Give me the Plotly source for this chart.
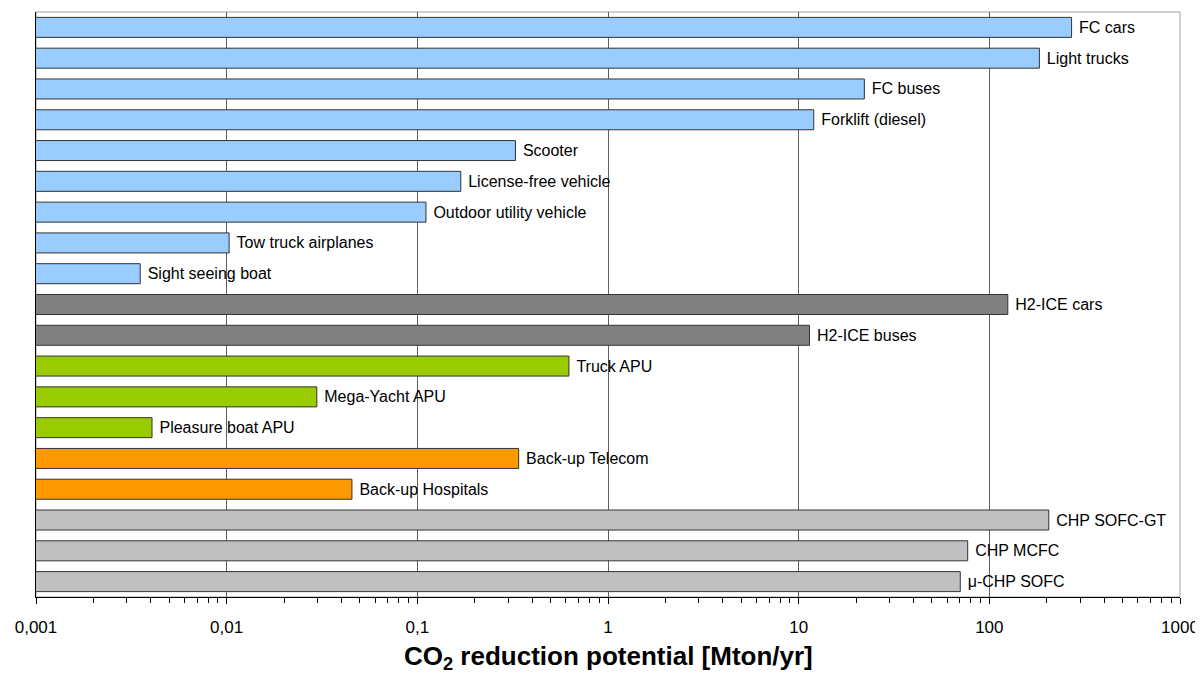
import plotly.graph_objects as go

categories = ["FC cars", "Light trucks", "FC buses", "Forklift (diesel)", "Scooter",
              "License-free vehicle", "Outdoor utility vehicle", "Tow truck airplanes",
              "Sight seeing boat", "H2-ICE cars", "H2-ICE buses", "Truck APU",
              "Mega-Yacht APU", "Pleasure boat APU", "Back-up Telecom", "Back-up Hospitals",
              "CHP SOFC-GT", "CHP MCFC", "μ-CHP SOFC"]
values = [270, 183, 22.1, 12.0, 0.327, 0.169, 0.111, 0.0103, 0.00352, 125, 11.4,
          0.624, 0.0297, 0.00406, 0.340, 0.0454, 205, 77, 70.4]
groups = ["fc", "fc", "fc", "fc", "fc", "fc", "fc", "fc", "fc", "ice", "ice",
          "apu", "apu", "apu", "backup", "backup", "chp", "chp", "chp"]
group_colors = {"fc": "#99ccff", "ice": "#808080", "apu": "#99cc00",
                "backup": "#ff9900", "chp": "#c0c0c0"}
tick_vals = [0.001, 0.01, 0.1, 1, 10, 100, 1000]
tick_text = ["0,001", "0,01", "0,1", "1", "10", "100", "1000"]
minor_mult = [2, 3, 4, 5, 6, 7, 8, 9]
minor_vals = [m * d for d in tick_vals[:-1] for m in minor_mult]

FONT = "Liberation Sans, Arial, sans-serif"

fig = go.Figure(go.Bar(
    x=values, y=categories, orientation="h",
    marker=dict(color=[group_colors[g] for g in groups],
                line=dict(color="#333333", width=1)),
    text=["\u00a0" + c for c in categories], textposition="outside",
    textfont=dict(family=FONT, size=16, color="black"),
    constraintext="none", cliponaxis=False, hoverinfo="x+y",
))

# page body has an 8px default margin, so the figure is sized to fit inside it
fig.update_layout(
    width=1195, height=666,
    margin=dict(l=28, r=23, t=4, b=77, autoexpand=False),
    paper_bgcolor="white", plot_bgcolor="white",
    showlegend=False, bargap=0.35,
    font=dict(family=FONT, color="black"),
    shapes=[dict(type="rect", xref="paper", yref="paper", x0=0, x1=1, y0=0, y1=1,
                 line=dict(color="#a0a0a0", width=1), layer="below")],
    annotations=[dict(text="CO<sub>2</sub> reduction potential [Mton/yr]",
                      xref="paper", yref="paper", x=0.5, y=-0.103,
                      xanchor="center", yanchor="middle", showarrow=False,
                      font=dict(family=FONT, size=26, color="black", weight="bold"))],
)
fig.update_xaxes(
    type="log", range=[-3, 3], tickvals=tick_vals, ticktext=tick_text,
    automargin=False,
    showgrid=True, gridcolor="#606060", gridwidth=1,
    showline=True, linecolor="black", linewidth=1,
    ticks="outside", ticklen=6, tickcolor="black", ticklabelstandoff=9,
    tickfont=dict(family=FONT, size=17, color="black"),
    minor=dict(tickvals=minor_vals, ticks="outside", ticklen=5,
               tickcolor="black", showgrid=False),
    zeroline=False,
)
fig.update_yaxes(
    categoryorder="array", categoryarray=categories, autorange="reversed",
    automargin=False,
    showticklabels=False, showgrid=False, showline=True, linecolor="black",
    linewidth=1, ticks="", zeroline=False,
)

fig.write_html("out.html")
